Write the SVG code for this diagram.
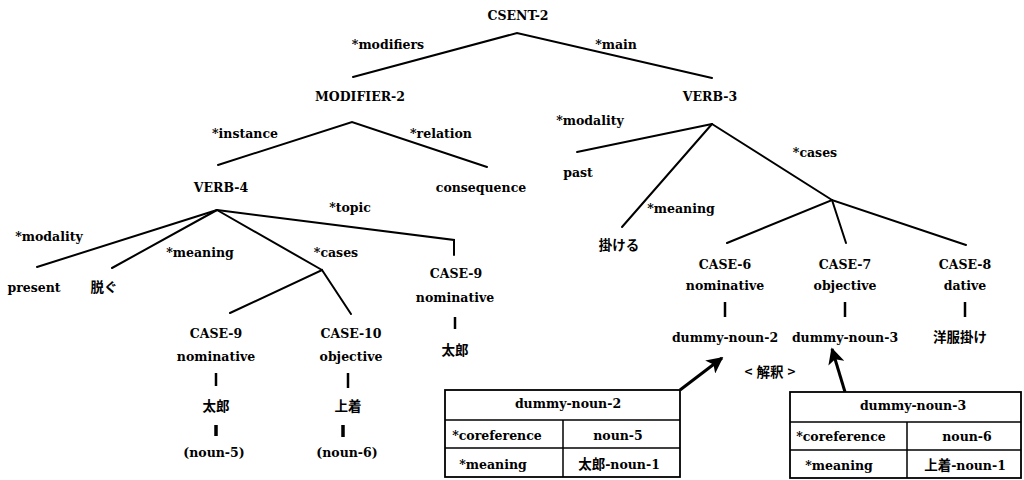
<svg xmlns="http://www.w3.org/2000/svg" width="1024" height="480" viewBox="0 0 1024 480">
<style>
text{font-family:"DejaVu Serif","Liberation Serif","Noto Sans CJK JP",serif;font-weight:bold;font-size:12.5px;fill:#000;text-anchor:middle}
.jp{font-family:"Noto Sans CJK JP","Noto Sans CJK SC",sans-serif;font-size:13.5px;font-weight:bold}
.e{stroke:#000;stroke-width:2;fill:none;stroke-linecap:round}
.bar{stroke:#000;stroke-width:2.5}
.tbar{stroke:#000;stroke-width:3.5}
.tb{fill:#fff;stroke:#000;stroke-width:1.8}
.tl{stroke:#000;stroke-width:1.5}
.arr{stroke:#000;stroke-width:3;fill:none}
</style>
<defs>
<marker id="ah" viewBox="0 0 10 10" refX="9" refY="5" markerWidth="5.5" markerHeight="5.5" orient="auto" markerUnits="strokeWidth">
<path d="M0,0 L10,5 L0,10 L2.5,5 z" fill="#000"/>
</marker>
</defs>
<rect width="1024" height="480" fill="#fff"/>
<g id="connectors">
<path class="e" d="M353,77 L517,33 L712,78"/>
<path class="e" d="M218,165 L352,122 L487,167"/>
<path class="e" d="M37,267 L217,210"/>
<path class="e" d="M112,268 L217,210"/>
<path class="e" d="M217,210 L322,270"/>
<path class="e" d="M217,210 L454,240 L454,255"/>
<path class="e" d="M230,313 L322,270 L351,314"/>
<path class="e" d="M577,152 L712,124"/>
<path class="e" d="M622,227 L712,124"/>
<path class="e" d="M712,124 L832,200"/>
<path class="e" d="M727,243 L832,200 L966,245"/>
<path class="e" d="M832,200 L846,243"/>
<line class="bar" x1="455" y1="317" x2="455" y2="329"/>
<line class="bar" x1="216" y1="373" x2="216" y2="386"/>
<line class="tbar" x1="216" y1="425" x2="216" y2="436"/>
<line class="bar" x1="348" y1="373" x2="348" y2="388"/>
<line class="tbar" x1="343" y1="425" x2="343" y2="437"/>
<line class="bar" x1="725" y1="302" x2="725" y2="317"/>
<line class="bar" x1="845" y1="302" x2="845" y2="317"/>
<line class="bar" x1="965" y1="302" x2="965" y2="317"/>
<line class="arr" x1="680" y1="390" x2="722" y2="358" marker-end="url(#ah)"/>
<line class="arr" x1="845" y1="392" x2="832" y2="349" marker-end="url(#ah)"/>
</g>
<g id="edge-labels">
<text x="388" y="49">*modifiers</text>
<text x="616" y="49">*main</text>
<text x="245" y="138">*instance</text>
<text x="441" y="138">*relation</text>
<text x="350" y="212">*topic</text>
<text x="49" y="241">*modality</text>
<text x="200" y="257">*meaning</text>
<text x="336" y="257">*cases</text>
<text x="590" y="125">*modality</text>
<text x="681" y="213">*meaning</text>
<text x="815" y="157">*cases</text>
</g>
<g id="csent-2"><text x="518" y="20">CSENT-2</text></g>
<g id="modifier-2"><text x="360" y="101">MODIFIER-2</text></g>
<g id="verb-3"><text x="710" y="101">VERB-3</text></g>
<g id="verb-4"><text x="221" y="192">VERB-4</text></g>
<g id="consequence"><text x="481" y="192">consequence</text></g>
<g id="present"><text x="34" y="292">present</text></g>
<g id="nugu"><text class="jp" x="104" y="292">脱ぐ</text></g>
<g id="case-9-topic">
<text x="456" y="278">CASE-9</text>
<text x="455" y="302">nominative</text>
<text class="jp" x="455" y="355">太郎</text>
</g>
<g id="case-9">
<text x="216" y="338">CASE-9</text>
<text x="216" y="361">nominative</text>
<text class="jp" x="216" y="411">太郎</text>
<text x="214" y="457">(noun-5)</text>
</g>
<g id="case-10">
<text x="351" y="338">CASE-10</text>
<text x="351" y="361">objective</text>
<text class="jp" x="348" y="411">上着</text>
<text x="347" y="457">(noun-6)</text>
</g>
<g id="past"><text x="578" y="177">past</text></g>
<g id="kakeru"><text class="jp" x="619" y="250">掛ける</text></g>
<g id="case-6">
<text x="725" y="269">CASE-6</text>
<text x="725" y="290">nominative</text>
<text x="725" y="342">dummy-noun-2</text>
</g>
<g id="case-7">
<text x="845" y="269">CASE-7</text>
<text x="845" y="290">objective</text>
<text x="845" y="342">dummy-noun-3</text>
</g>
<g id="case-8">
<text x="965" y="269">CASE-8</text>
<text x="965" y="290">dative</text>
<text class="jp" x="960" y="342">洋服掛け</text>
</g>
<g id="kaishaku"><text class="jp" x="770" y="377">&lt;<tspan dx="4">解釈</tspan><tspan dx="4">&gt;</tspan></text></g>
<g id="table-dummy-noun-2">
<rect class="tb" x="445" y="390" width="235" height="87"/>
<line class="tl" x1="445" y1="420" x2="680" y2="420"/>
<line class="tl" x1="445" y1="448" x2="680" y2="448"/>
<line class="tl" x1="563" y1="420" x2="563" y2="477"/>
<text x="568" y="408">dummy-noun-2</text>
<text x="497" y="440">*coreference</text>
<text x="618" y="440">noun-5</text>
<text x="493" y="469">*meaning</text>
<text x="619" y="469"><tspan class="jp">太郎</tspan>-noun-1</text>
</g>
<g id="table-dummy-noun-3">
<rect class="tb" x="790" y="392" width="231" height="86"/>
<line class="tl" x1="790" y1="422" x2="1021" y2="422"/>
<line class="tl" x1="790" y1="450" x2="1021" y2="450"/>
<line class="tl" x1="907" y1="422" x2="907" y2="478"/>
<text x="913" y="410">dummy-noun-3</text>
<text x="841" y="441">*coreference</text>
<text x="967" y="441">noun-6</text>
<text x="839" y="470">*meaning</text>
<text x="965" y="470"><tspan class="jp">上着</tspan>-noun-1</text>
</g>
</svg>
